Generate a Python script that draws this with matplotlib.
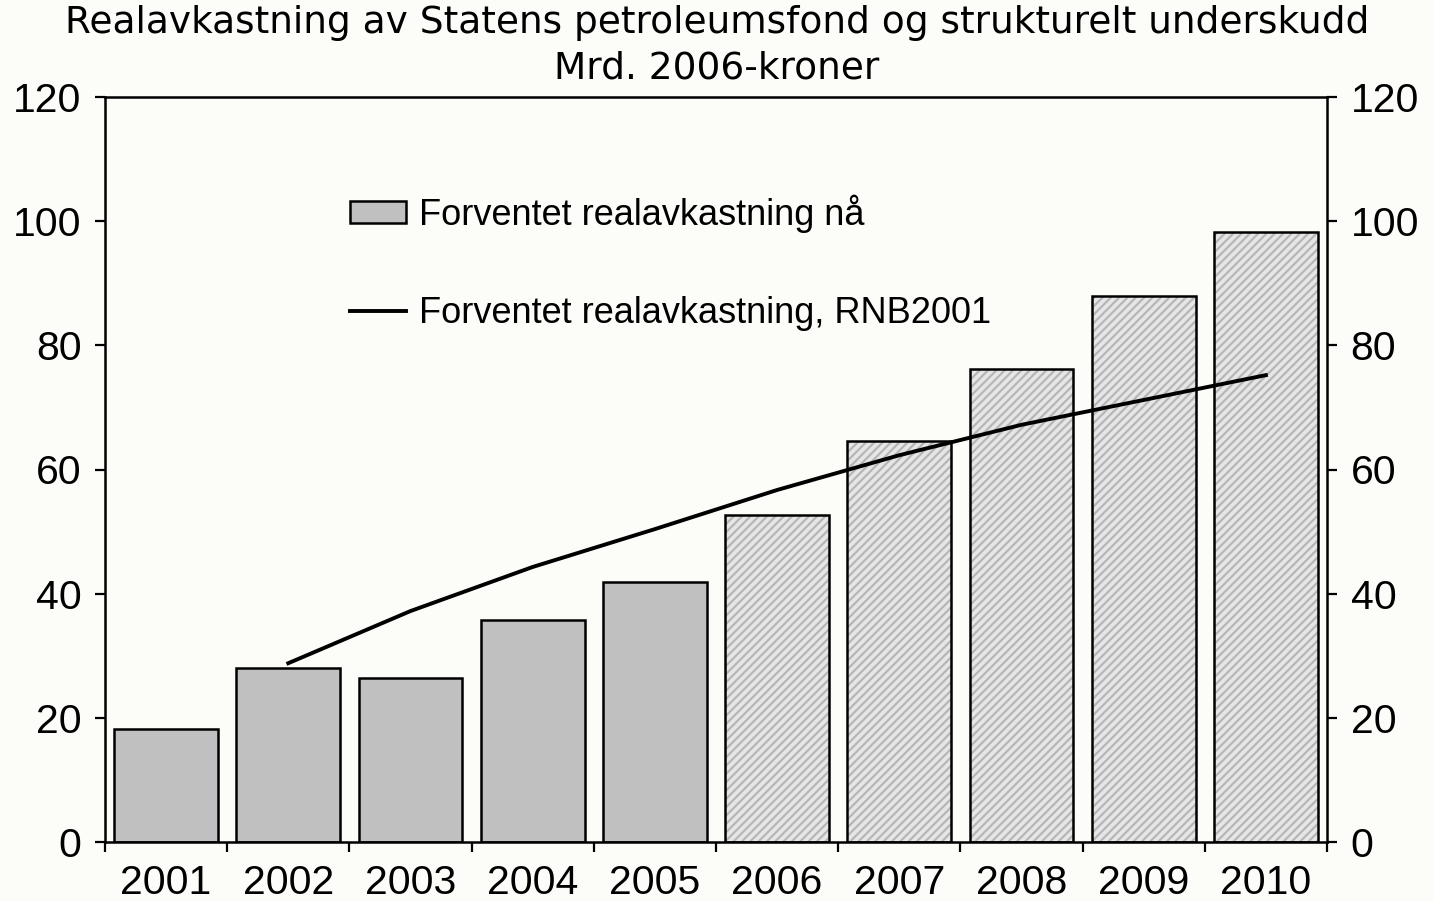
import numpy as np
import matplotlib.pyplot as plt

# Data (mrd. 2006-kroner)
years = ['2001', '2002', '2003', '2004', '2005', '2006', '2007', '2008', '2009', '2010']
realavk_naa = [18.2, 28.0, 26.4, 35.8, 41.9, 52.7, 64.6, 76.2, 88.0, 98.3]
rnb_years = ['2002', '2003', '2004', '2005', '2006', '2007', '2008', '2009', '2010']
realavk_rnb2001 = [28.8, 37.2, 44.3, 50.4, 56.7, 62.3, 67.2, 71.2, 75.2]
n_actual = 5  # 2001-2005 solid, rest hatched (projections)

bg = '#fcfdf8'
plt.rcParams['font.family'] = ['Liberation Sans', 'DejaVu Sans']
plt.rcParams['hatch.linewidth'] = 1.6

fig = plt.figure(figsize=(14.34, 9.01), dpi=100, facecolor=bg)
ax = fig.add_axes([105/1434, 59/901, 1222/1434, 745/901])
ax.set_facecolor(bg)

x = np.arange(len(years))
w = 0.85

# solid bars
bars = ax.bar(x[:n_actual], realavk_naa[:n_actual], width=w, color='#c0c0c0',
              edgecolor='black', linewidth=1.8, zorder=2)
# hatched bars: hatch first, then black outline
ax.bar(x[n_actual:], realavk_naa[n_actual:], width=w, color='#e6e6e6',
       edgecolor='#b6b6b6', linewidth=0, hatch='////', zorder=2)
ax.bar(x[n_actual:], realavk_naa[n_actual:], width=w, color='none',
       edgecolor='black', linewidth=1.8, zorder=3)

xr = [years.index(y) for y in rnb_years]
line, = ax.plot(xr, realavk_rnb2001, color='black', linewidth=2.8, zorder=4)

ax.set_xlim(-0.5, len(years) - 0.5)
ax.set_ylim(0, 120)
ax.set_yticks(np.arange(0, 121, 20))
ax.set_xticks(np.arange(-0.5, len(years)), minor=False)
ax.set_xticklabels([])
ax.set_xticks(x, minor=True)
ax.set_xticklabels(years, minor=True)
ax.tick_params(axis='x', which='major', direction='out', length=7, width=1.6)
ax.tick_params(axis='x', which='minor', length=0, pad=16, labelsize=29.5)
ax.tick_params(axis='y', direction='out', length=7, width=1.6, labelsize=29.5,
               pad=10, right=True, labelright=True)
for s in ax.spines.values():
    s.set_linewidth(1.8)

ax.legend([bars, line], ['Forventet realavkastning nå', 'Forventet realavkastning, RNB2001'],
          loc='upper left', bbox_to_anchor=(0.174, 0.913), frameon=False,
          fontsize=26, labelspacing=1.75, handlelength=1.55, handleheight=0.6,
          handletextpad=0.35)

fig.text(0.5, 0.975, 'Realavkastning av Statens petroleumsfond og strukturelt underskudd',
         ha='center', va='center', fontsize=27, family='DejaVu Sans')
fig.text(0.5, 0.924, 'Mrd. 2006-kroner', ha='center', va='center',
         fontsize=27, family='DejaVu Sans')

fig.savefig('out.png', dpi=100, facecolor=bg)
